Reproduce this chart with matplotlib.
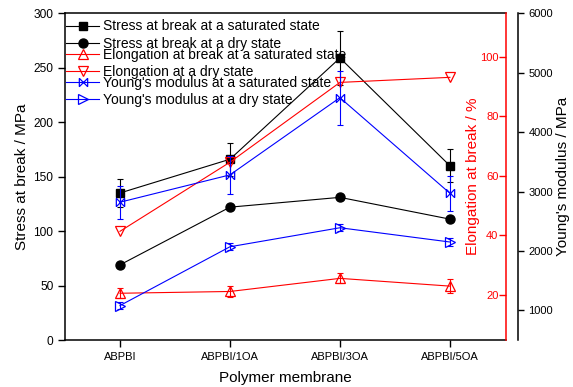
import numpy as np
import matplotlib.pyplot as plt
from matplotlib.path import Path

plt.rcParams['font.family'] = ['Liberation Sans', 'DejaVu Sans']

# data
membranes = ['ABPBI', 'ABPBI/1OA', 'ABPBI/3OA', 'ABPBI/5OA']
stress_sat = [135, 166, 259, 160]
stress_sat_err = [13, 15, 25, 15]
stress_dry = [69, 122, 131, 111]
elong_sat = [20.6, 21.2, 25.6, 23.0]
elong_sat_err = [1.6, 2.0, 1.7, 2.3]
elong_dry = [41.4, 64.6, 91.4, 93.1]
modulus_sat = [2820, 3280, 4580, 2970]
modulus_sat_err = [280, 320, 455, 296]
modulus_dry = [1080, 2070, 2390, 2150]
modulus_dry_err = [60, 60, 60, 60]

# bow-tie marker (X with vertical sides)
bowtie = Path([(-1, -1), (1, 1), (-1, 1), (1, -1), (-1, -1), (-1, 1), (1, -1), (1, 1)],
              [Path.MOVETO, Path.LINETO, Path.MOVETO, Path.LINETO,
               Path.MOVETO, Path.LINETO, Path.MOVETO, Path.LINETO])


def main():
    x = np.arange(len(membranes))
    fig = plt.figure(figsize=(5.73, 3.87), dpi=100)
    ax = fig.add_axes([0.1134, 0.1214, 0.7697, 0.8442])
    ax2 = ax.twinx()
    ax3 = ax.twinx()
    lw = 0.8
    cap = 2.5

    # stress (left axis)
    l1, = ax.plot(x, stress_sat, '-s', color='black', lw=lw, ms=5.5)
    ax.errorbar(x, stress_sat, yerr=stress_sat_err, fmt='none', ecolor='black',
                elinewidth=lw, capsize=cap, capthick=lw)
    l2, = ax.plot(x, stress_dry, '-o', color='black', lw=lw, ms=6.5)

    # elongation (red axis)
    l3, = ax2.plot(x, elong_sat, '-^', color='red', lw=lw, ms=7, mfc='none', mew=0.9)
    ax2.errorbar(x, elong_sat, yerr=elong_sat_err, fmt='none', ecolor='red',
                 elinewidth=lw, capsize=cap, capthick=lw)
    l4, = ax2.plot(x, elong_dry, '-v', color='red', lw=lw, ms=7, mfc='none', mew=0.9)

    # Young's modulus (outer right axis)
    l5, = ax3.plot(x, modulus_sat, '-', marker=bowtie, color='blue', lw=lw, ms=6,
                   mfc='none', mew=0.9)
    ax3.errorbar(x, modulus_sat, yerr=modulus_sat_err, fmt='none', ecolor='blue',
                 elinewidth=lw, capsize=cap, capthick=lw)
    l6, = ax3.plot(x, modulus_dry, '->', color='blue', lw=lw, ms=6.5, mfc='none', mew=0.9)
    ax3.errorbar(x, modulus_dry, yerr=modulus_dry_err, fmt='none', ecolor='blue',
                 elinewidth=lw, capsize=cap, capthick=lw)

    ax.set_xlim(-0.5, 3.51)
    ax.set_ylim(0, 300)
    ax2.set_ylim(4.9, 114.6)
    ax3.set_ylim(500, 6000)

    ax.set_xticks(x)
    ax.set_xticklabels(membranes, fontsize=8)
    ax.set_yticks([0, 50, 100, 150, 200, 250, 300])
    ax.tick_params(axis='y', direction='out', length=5, width=1, labelsize=8.6, pad=3.4)
    ax.tick_params(axis='x', direction='out', length=5, width=1, pad=3.5)
    ax.tick_params(top=False, right=False)
    ax.spines['right'].set_visible(False)
    for s in ['left', 'bottom', 'top']:
        ax.spines[s].set_linewidth(1.1)

    ax.set_xlabel('Polymer membrane', fontsize=11)
    ax.xaxis.set_label_coords(0.5, -0.116)
    ax.xaxis.label.set_verticalalignment('center')
    ax.set_ylabel('Stress at break / MPa', fontsize=11)
    ax.yaxis.set_label_coords(-0.0975, 0.5)
    ax.yaxis.label.set_verticalalignment('center')

    # red axis: ticks and labels inside the frame
    for s in ['left', 'bottom', 'top']:
        ax2.spines[s].set_visible(False)
    ax2.spines['right'].set_color('red')
    ax2.spines['right'].set_linewidth(1.1)
    ax2.set_yticks([20, 40, 60, 80, 100])
    ax2.tick_params(axis='y', direction='in', length=5, width=1, colors='red',
                    labelsize=8, pad=-5.5)
    for t in ax2.get_yticklabels():
        t.set_horizontalalignment('right')
    ax2.set_ylabel('Elongation at break / %', fontsize=11, color='red')
    ax2.yaxis.set_label_coords(0.925, 0.5)
    ax2.yaxis.label.set_verticalalignment('center')

    # outer axis for modulus
    for s in ['left', 'bottom', 'top']:
        ax3.spines[s].set_visible(False)
    ax3.spines['right'].set_position(('outward', 8.64))
    ax3.spines['right'].set_linewidth(1.1)
    ax3.set_yticks([1000, 2000, 3000, 4000, 5000, 6000])
    ax3.tick_params(axis='y', direction='out', length=4.5, width=1, labelsize=8, pad=3)
    ax3.set_ylabel("Young's modulus / MPa", fontsize=11)
    ax3.yaxis.set_label_coords(1.129, 0.5)
    ax3.yaxis.label.set_verticalalignment('center')

    # legends, one group per axis
    groups = [([l1, l2], ['Stress at break at a saturated state',
                          'Stress at break at a dry state'], 19.5),
              ([l3, l4], ['Elongation at break at a saturated state',
                          'Elongation at a dry state'], 48),
              ([l5, l6], ["Young's modulus at a saturated state",
                          "Young's modulus at a dry state"], 76)]
    for handles, labels, top in groups:
        fig.legend(handles, labels, loc='upper left', frameon=False, fontsize=10,
                   bbox_to_anchor=(66 / 573, 1 - top / 387), borderpad=0,
                   borderaxespad=0, labelspacing=0.22, handlelength=2.4,
                   handletextpad=0.25)

    fig.savefig('out.png', dpi=100)


if __name__ == "__main__":
    main()
